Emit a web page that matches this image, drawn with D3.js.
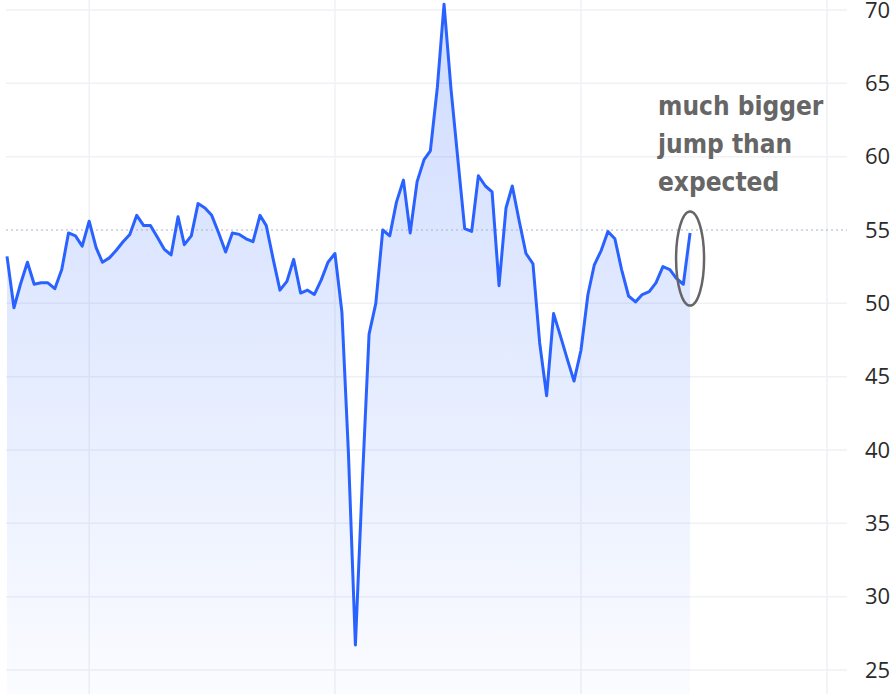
<!DOCTYPE html>
<html>
<head>
<meta charset="utf-8">
<script src="https://cdn.jsdelivr.net/npm/d3@7"></script>
<style>
  html, body { margin: 0; padding: 0; background: #fff; overflow: hidden; }
  svg { display: block; }
</style>
</head>
<body>
<div id="chart"></div>
<script>
// monthly index values, Jan 2016 .. May 2024
var startMonth = "2016-01";
var pmi2016 = [53.2, 49.7, 51.3, 52.8, 51.3, 51.4, 51.4, 51.0, 52.3, 54.8, 54.6, 53.9];
var pmi2017 = [55.6, 53.8, 52.8, 53.1, 53.6, 54.2, 54.7, 56.0, 55.3, 55.3, 54.5, 53.7];
var pmi2018 = [53.3, 55.9, 54.0, 54.6, 56.8, 56.5, 56.0, 54.8, 53.5, 54.8, 54.7, 54.4];
var pmi2019 = [54.2, 56.0, 55.3, 53.0, 50.9, 51.5, 53.0, 50.7, 50.9, 50.6, 51.6, 52.8];
var pmi2020 = [53.4, 49.4, 39.8, 26.7, 37.5, 47.9, 50.0, 55.0, 54.6, 56.9, 58.4, 54.8];
var pmi2021 = [58.3, 59.8, 60.4, 64.7, 70.4, 64.6, 59.9, 55.1, 54.9, 58.7, 58.0, 57.6];
var pmi2022 = [51.2, 56.5, 58.0, 55.6, 53.4, 52.7, 47.3, 43.7, 49.3, 47.8, 46.2, 44.7];
var pmi2023 = [46.8, 50.6, 52.6, 53.6, 54.9, 54.4, 52.3, 50.5, 50.1, 50.6, 50.8, 51.4];
var pmi2024 = [52.5, 52.3, 51.7, 51.3, 54.8];

var yTicks = [25, 30, 35, 40, 45, 50, 55, 60, 65, 70];
var gridYears = [2017, 2020, 2023, 2026];
var refLevel = 55;
var noteLines = ["much bigger", "jump than", "expected"];

// build the series
var values = [].concat(pmi2016, pmi2017, pmi2018, pmi2019, pmi2020, pmi2021, pmi2022, pmi2023, pmi2024);
var parseMonth = d3.timeParse("%Y-%m");
var t0 = parseMonth(startMonth);
var data = values.map(function(v, i) {
  return { date: d3.timeMonth.offset(t0, i), value: v };
});

// chart setup
var svgWidth = 893;
var svgHeight = 694;
var plotLeft = 6;
var plotRight = 847;

var svg = d3.select("#chart")
  .append("svg")
  .attr("width", svgWidth)
  .attr("height", svgHeight);

// scales
var xScale = d3.scaleTime()
  .domain([new Date(2016, 0, 1), new Date(2026, 0, 1)])
  .range([7, 827]);

var yScale = d3.scaleLinear()
  .domain([25, 70])
  .range([670, 10]);

// gradient for the area
var defs = svg.append("defs");
var grad = defs.append("linearGradient")
  .attr("id", "areaFill")
  .attr("gradientUnits", "userSpaceOnUse")
  .attr("x1", 0).attr("y1", 0)
  .attr("x2", 0).attr("y2", svgHeight);
grad.append("stop").attr("offset", "0%").attr("stop-color", "#2962ff").attr("stop-opacity", 0.22);
grad.append("stop").attr("offset", "45%").attr("stop-color", "#2962ff").attr("stop-opacity", 0.14);
grad.append("stop").attr("offset", "100%").attr("stop-color", "#2962ff").attr("stop-opacity", 0.02);

// horizontal gridlines
svg.append("g")
  .selectAll("line")
  .data(yTicks.filter(function(d) { return d !== refLevel; }))
  .enter()
  .append("line")
  .attr("x1", plotLeft)
  .attr("x2", plotRight)
  .attr("y1", function(d) { return yScale(d); })
  .attr("y2", function(d) { return yScale(d); })
  .attr("stroke", "#eff1f5")
  .attr("stroke-width", 1.5);

// vertical gridlines
svg.append("g")
  .selectAll("line")
  .data(gridYears)
  .enter()
  .append("line")
  .attr("x1", function(d) { return xScale(new Date(d, 0, 1)); })
  .attr("x2", function(d) { return xScale(new Date(d, 0, 1)); })
  .attr("y1", 0)
  .attr("y2", svgHeight)
  .attr("stroke", "#eff1f5")
  .attr("stroke-width", 1.5);

// area under the line
var area = d3.area()
  .x(function(d) { return xScale(d.date); })
  .y0(svgHeight)
  .y1(function(d) { return yScale(d.value); });

svg.append("path")
  .datum(data)
  .attr("d", area)
  .attr("fill", "url(#areaFill)");

// dotted reference line
svg.append("line")
  .attr("x1", plotLeft)
  .attr("x2", plotRight)
  .attr("y1", yScale(refLevel))
  .attr("y2", yScale(refLevel))
  .attr("stroke", "#a9b1c9")
  .attr("stroke-width", 1.2)
  .attr("stroke-dasharray", "2,3");

// the line
var line = d3.line()
  .x(function(d) { return xScale(d.date); })
  .y(function(d) { return yScale(d.value); });

svg.append("path")
  .datum(data)
  .attr("d", line)
  .attr("fill", "none")
  .attr("stroke", "#2962ff")
  .attr("stroke-width", 3)
  .attr("stroke-linejoin", "round");

// right axis labels
var yAxis = d3.axisRight(yScale)
  .tickValues(yTicks)
  .tickSize(0)
  .tickPadding(0);

var yAxisGroup = svg.append("g")
  .attr("transform", "translate(865, 0)")
  .call(yAxis);
yAxisGroup.select(".domain").remove();
yAxisGroup.selectAll("text")
  .attr("font-family", "'Open Sans', 'Noto Sans', sans-serif")
  .attr("font-size", 22)
  .attr("fill", "#2b2b2b");

// annotation: ellipse round the last jump
var last = data[data.length - 1];
var prev = data[data.length - 2];
var cx = xScale(last.date);
var cy = (yScale(last.value) + yScale(prev.value)) / 2;

svg.append("ellipse")
  .attr("cx", cx)
  .attr("cy", cy)
  .attr("rx", 14)
  .attr("ry", 47)
  .attr("fill", "none")
  .attr("stroke", "#666")
  .attr("stroke-width", 2.5);

svg.append("g")
  .selectAll("text")
  .data(noteLines)
  .enter()
  .append("text")
  .attr("x", 658)
  .attr("y", function(d, i) { return 115 + i * 38; })
  .attr("font-family", "'DejaVu Sans Condensed', 'DejaVu Sans', sans-serif")
  .attr("font-stretch", "condensed")
  .attr("font-weight", "bold")
  .attr("font-size", 26)
  .attr("fill", "#666")
  .text(function(d) { return d; });
</script>
</body>
</html>
